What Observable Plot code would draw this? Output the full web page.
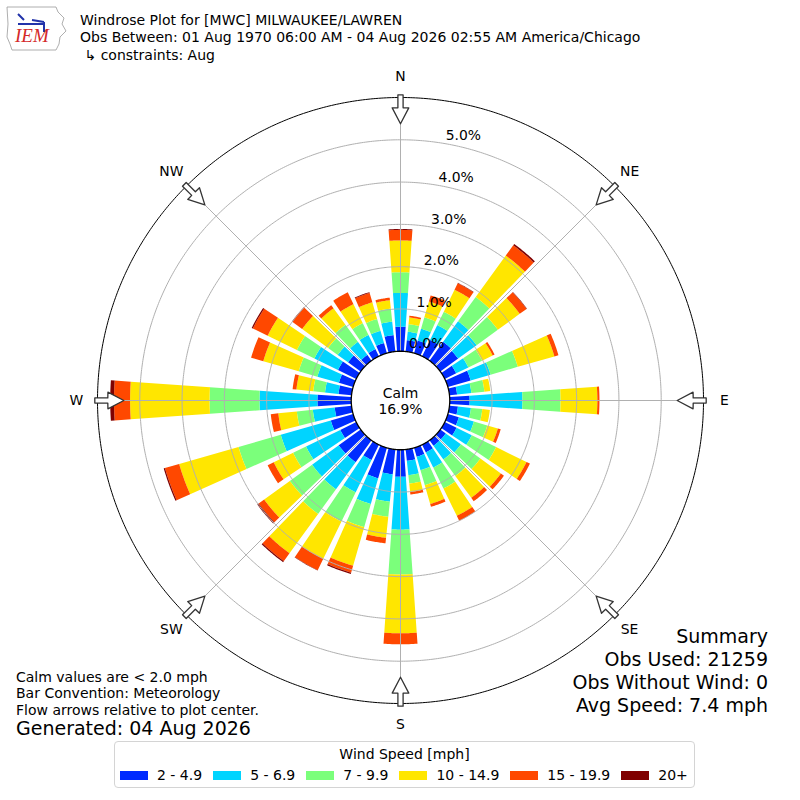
<!DOCTYPE html>
<html><head><meta charset="utf-8">
<script src="https://cdn.jsdelivr.net/npm/d3@7"></script>
<script src="https://cdn.jsdelivr.net/npm/@observablehq/plot@0.6"></script>
<style>
body{margin:0;background:#fff;font-family:"DejaVu Sans",sans-serif;color:#000}
#wrap{position:relative;width:800px;height:800px;overflow:hidden;background:#fff}
#chart{position:absolute;left:0;top:0}
.t{position:absolute;white-space:pre}
.r{position:absolute;right:32px;white-space:pre;font-size:19px;line-height:23px;text-align:right}
#legend{position:absolute;left:114px;top:741px;width:581px;height:47px;border:1px solid #d4d4d4;border-radius:4px;background:#fff;box-sizing:border-box;font-size:14px}
#legend .ttl{position:absolute;left:0;right:0;top:4px;text-align:center;line-height:16px}
#legend .row{position:absolute;left:5px;top:25px;display:flex;align-items:center;line-height:16px;white-space:nowrap}
#legend .item{display:flex;align-items:center;margin-right:11px;flex-shrink:0;white-space:nowrap}
#legend .sw{width:28px;height:9px;margin-right:9px;flex-shrink:0}
</style></head><body>
<div id="wrap">
  <div id="chart"></div>
  <svg class="t" style="left:4px;top:4px" width="64" height="48" viewBox="0 0 64 48">
    <path d="M3,3 L52,3 L54,8 L60,14 L58,20 L62,27 L56,33 L55,40 L52,46 L8,46 L6,40 L3,33 L4,20 Z" fill="none" stroke="#999" stroke-width="0.8"/>
    <path d="M14,10 L20,16 M14,20 L40,20 M28,16 L40,18 M40,18 L40,28" fill="none" stroke="#2233aa" stroke-width="2"/>
  </svg>
  <div class="t" style="left:15px;top:25px;font-family:'Liberation Serif',serif;font-style:italic;font-size:19px;color:#d42a2a">IEM</div>
  <div class="t" style="left:80px;top:12px;font-size:14px;line-height:17.3px">Windrose Plot for [MWC] MILWAUKEE/LAWREN
Obs Between: 01 Aug 1970 06:00 AM - 04 Aug 2026 02:55 AM America/Chicago
 ↳ constraints: Aug</div>
  <div class="t" style="left:16px;top:668.5px;font-size:14px;line-height:16.7px">Calm values are &lt; 2.0 mph
Bar Convention: Meteorology
Flow arrows relative to plot center.</div>
  <div class="t" style="left:16px;top:717px;font-size:19px;line-height:22px">Generated: 04 Aug 2026</div>
  <div class="r" style="top:625px">Summary</div>
  <div class="r" style="top:648px">Obs Used: 21259</div>
  <div class="r" style="top:671px">Obs Without Wind: 0</div>
  <div class="r" style="top:694px">Avg Speed: 7.4 mph</div>
  <div id="legend"><div class="ttl">Wind Speed [mph]</div><div class="row" id="legrow"></div></div>
</div>
<script>
// ---- data (percent of observations) ----
const directions = [0,10,20,30,40,50,60,70,80,90,100,110,120,130,140,150,160,170,180,190,200,210,220,230,240,250,260,270,280,290,300,310,320,330,340,350];
const speedBins = ["2 - 4.9","5 - 6.9","7 - 9.9","10 - 14.9","15 - 19.9","20+"];
const binColors = ["#002bff","#00d4ff","#7bff7b","#ffe600","#ff4800","#800000"];
const spd2to5   = [0.58,0.27,0.31,0.43,0.55,0.52,0.30,0.56,0.18,0.47,0.20,0.27,0.31,0.16,0.16,0.20,0.22,0.27,0.64,0.59,0.75,0.40,0.64,0.64,0.42,0.55,0.40,0.80,0.31,0.35,0.48,0.37,0.17,0.19,0.25,0.39];
const spd5to7   = [0.80,0.20,0.29,0.39,0.60,0.54,0.32,0.49,0.34,1.25,0.31,0.37,0.40,0.44,0.40,0.40,0.33,0.34,1.25,0.65,0.63,0.85,0.79,0.78,0.90,1.23,0.52,1.37,0.32,0.53,0.62,0.30,0.38,0.37,0.30,0.32];
const spd7to10  = [0.49,0.18,0.28,0.35,0.71,0.62,0.36,0.67,0.31,0.90,0.27,0.33,0.64,0.57,0.48,0.55,0.37,0.20,1.06,0.36,0.57,0.77,0.72,0.65,0.34,1.04,0.38,1.18,0.28,0.46,0.46,0.28,0.50,0.31,0.29,0.31];
const spd10to15 = [0.75,0.16,0.39,0.58,1.21,0.64,0.28,0.90,0.14,0.87,0.18,0.26,0.80,0.60,0.64,0.72,0.46,0.20,1.39,0.50,0.95,0.98,1.15,0.75,0.51,1.46,0.44,1.88,0.40,0.87,0.77,0.76,0.48,0.50,0.41,0.20];
const spd15to20 = [0.25,0.04,0.15,0.17,0.30,0.20,0.05,0.10,0.00,0.05,0.00,0.07,0.09,0.09,0.10,0.13,0.07,0.06,0.26,0.13,0.17,0.30,0.23,0.16,0.16,0.35,0.18,0.38,0.09,0.30,0.39,0.29,0.09,0.31,0.23,0.06];
const spd20plus = [0.02,0.00,0.00,0.01,0.04,0.01,0.00,0.00,0.00,0.00,0.00,0.00,0.00,0.00,0.00,0.00,0.00,0.00,0.00,0.00,0.03,0.01,0.03,0.04,0.00,0.03,0.00,0.09,0.00,0.00,0.03,0.01,0.00,0.00,0.02,0.00];
const calmPercent = 16.9;
const ringTicks = [0,1,2,3,4,5];
const compassLabels = ["N","NE","E","SE","S","SW","W","NW"];
const compassAngles = [0,45,90,135,180,225,270,315];

// ---- geometry helpers (polar -> lon/lat for an azimuthal projection centred on the pole) ----
const R0 = 1.165;            // calm circle radius, in percent units
const RMAX = 6;              // outer circle (percent)
const K = 303 / (R0 + RMAX); // px per unit, used only to size glyphs
const lon = t => 180 - t;
const lat = u => 90 - u;
function fix(g) {
  return d3.geoArea(g) > 2 * Math.PI
    ? {type: "Polygon", coordinates: g.coordinates.map(r => r.slice().reverse())} : g;
}
function wedge(theta, a, b) {
  const hw = 4, n = 16, ring = [];
  for (let i = 0; i <= n; i++) ring.push([lon(theta - hw + 2 * hw * i / n), lat(R0 + a)]);
  for (let i = n; i >= 0; i--) ring.push([lon(theta - hw + 2 * hw * i / n), lat(R0 + b)]);
  ring.push(ring[0]);
  return fix({type: "Polygon", coordinates: [ring]});
}
const arrowShape = [[0,0],[16,8.3],[16,2.6],[29,2.6],[29,-2.6],[16,-2.6],[16,-8.3],[0,0]];
function arrow(theta) {
  const tip = 276.7;
  const ring = arrowShape.map(([a, c]) => {
    const rp = tip + a;
    return [lon(theta + c / rp * 180 / Math.PI), lat(rp / K)];
  });
  return fix({type: "Polygon", coordinates: [ring]});
}
const circle = u => d3.geoCircle().center([0, 90]).radius(u).precision(0.5)();

const series = [spd2to5, spd5to7, spd7to10, spd10to15, spd15to20, spd20plus];
const segments = [];
directions.forEach((dir, i) => {
  let acc = 0;
  series.forEach((s, j) => {
    const v = s[i];
    if (v > 0) segments.push({dir, bin: speedBins[j], r0: acc, r1: acc + v});
    acc += v;
  });
});

const chart = Plot.plot({
  width: 800, height: 800, margin: 97,
  style: {fontFamily: "DejaVu Sans", background: "transparent", overflow: "visible"},
  projection: {type: "azimuthal-equidistant", rotate: [0, -90], domain: circle(R0 + RMAX), clip: false},
  color: {domain: speedBins, range: binColors},
  marks: [
    Plot.geo(segments, {geometry: d => wedge(d.dir, d.r0, d.r1), fill: "bin", stroke: "none"}),
    Plot.geo(ringTicks.slice(1), {geometry: p => circle(R0 + p), fill: "none", stroke: "#b0b0b0", strokeWidth: 1}),
    Plot.link(compassAngles, {x1: a => lon(a), y1: lat(R0), x2: a => lon(a), y2: lat(R0 + RMAX), stroke: "#b0b0b0", strokeWidth: 1}),
    Plot.geo([RMAX], {geometry: p => circle(R0 + p), fill: "none", stroke: "#000", strokeWidth: 1}),
    Plot.geo([calmPercent], {geometry: () => circle(R0), fill: "white", stroke: "#000", strokeWidth: 1.3}),
    Plot.text([calmPercent], {x: 0, y: 90, text: d => `Calm\n${d.toFixed(1)}%`, fontSize: 13.9, lineHeight: 1.2, fill: "#000"}),
    Plot.text(ringTicks, {x: lon(10), y: p => lat(R0 + p), text: p => p.toFixed(1) + "%", textAnchor: "start", lineAnchor: "bottom", dy: -3.5, fontSize: 13.9, fill: "#000"}),
    Plot.geo(compassAngles, {geometry: a => arrow(a), fill: "white", stroke: "#333", strokeWidth: 1.3}),
    Plot.text(compassAngles, {x: a => lon(a), y: lat(324 / K), text: (a, i) => compassLabels[i], fontSize: 13.9, fill: "#000"})
  ]
});
document.getElementById("chart").appendChild(chart);

const row = document.getElementById("legrow");
speedBins.forEach((b, i) => {
  const it = document.createElement("div"); it.className = "item";
  const sw = document.createElement("div"); sw.className = "sw"; sw.style.background = binColors[i];
  const tx = document.createElement("span"); tx.textContent = b;
  it.appendChild(sw); it.appendChild(tx); row.appendChild(it);
});
</script>
</body></html>
